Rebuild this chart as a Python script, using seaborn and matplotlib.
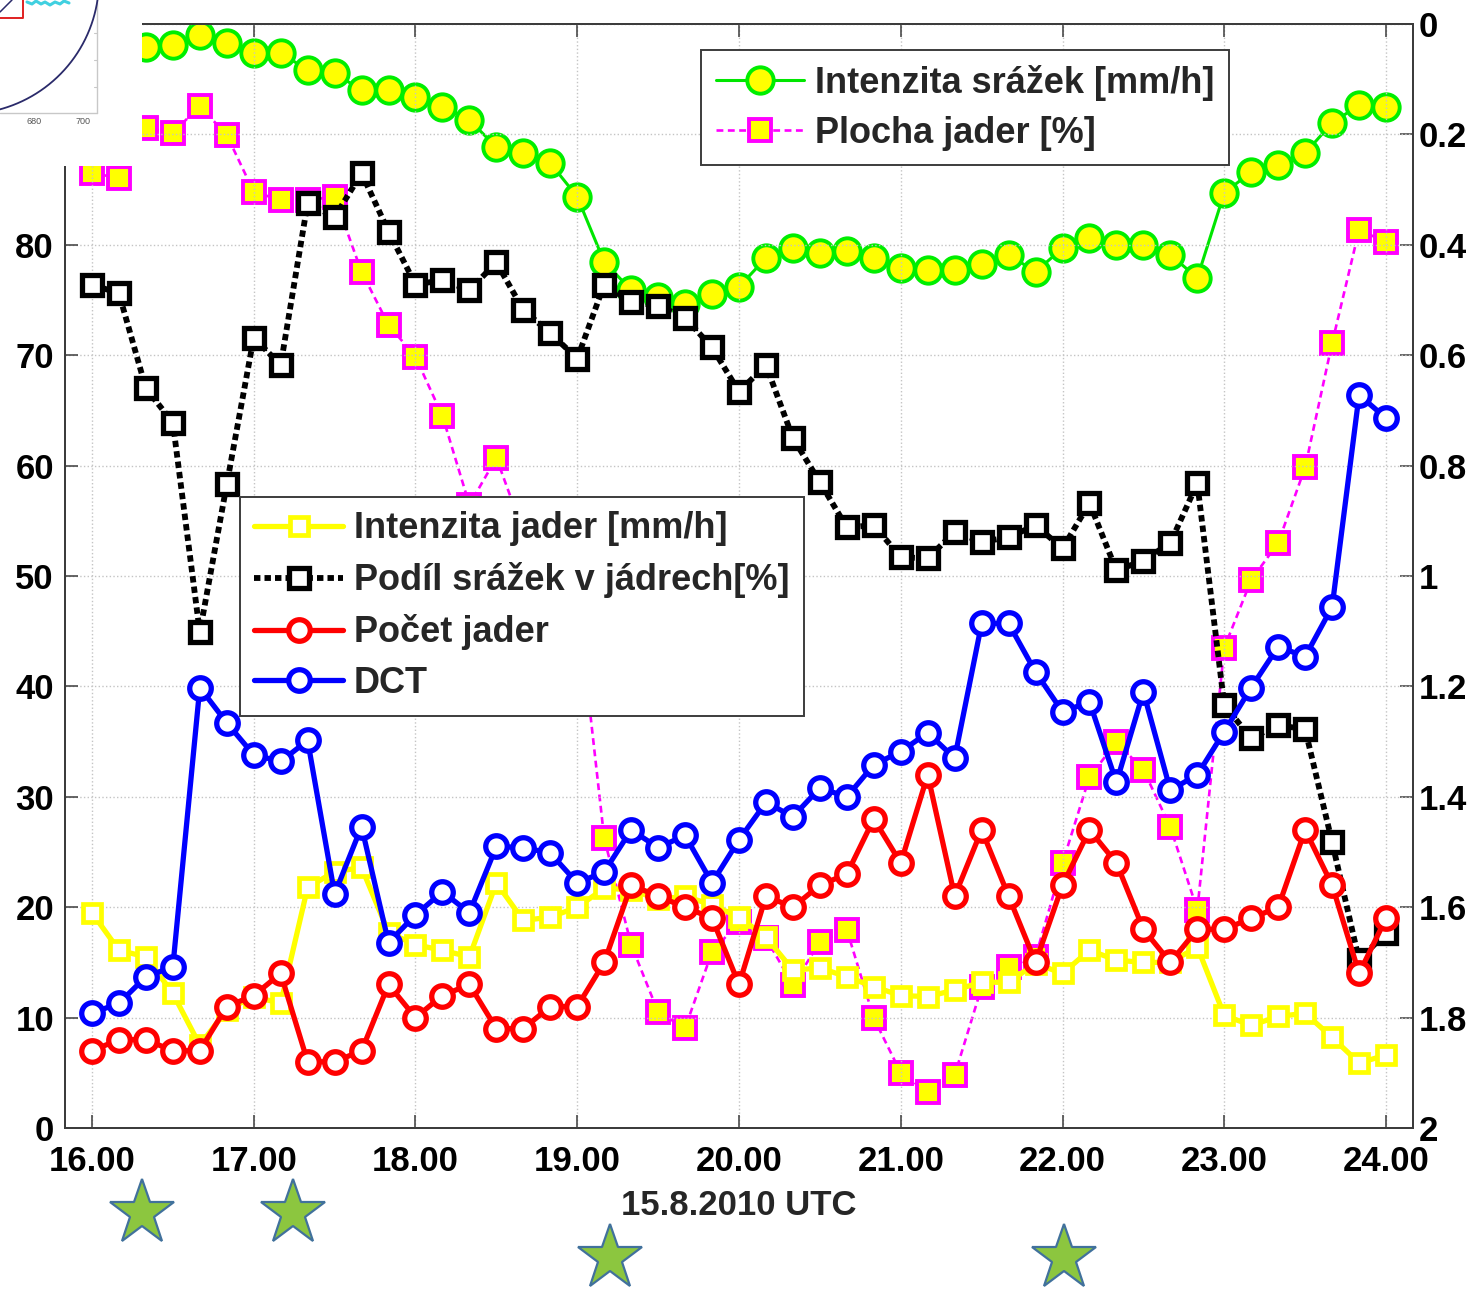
import numpy as np
import matplotlib
matplotlib.use("Agg")
import matplotlib.pyplot as plt
import matplotlib.transforms as mtransforms
import seaborn as sns

# ---- data: 10-minute steps, 15.8.2010, 16:00-24:00 UTC ----
hours = [16 + i / 6 for i in range(49)]

# right axis (inverted)
intenzita_srazek = [0.045, 0.045, 0.042, 0.038, 0.020, 0.034, 0.053, 0.053, 0.083, 0.089,
                    0.120, 0.120, 0.132, 0.150, 0.174, 0.223, 0.234, 0.252, 0.313, 0.431,
                    0.482, 0.495, 0.507, 0.489, 0.476, 0.424, 0.406, 0.415, 0.411, 0.424,
                    0.442, 0.446, 0.446, 0.435, 0.418, 0.449, 0.406, 0.388, 0.400, 0.400,
                    0.418, 0.460, 0.306, 0.268, 0.255, 0.234, 0.179, 0.147, 0.150]
plocha_jader = [0.270, 0.279, 0.188, 0.197, 0.149, 0.201, 0.304, 0.319, 0.319, 0.313,
                0.449, 0.545, 0.603, 0.710, 0.871, 0.786, 0.920, 0.980, 1.038, 1.475,
                1.668, 1.790, 1.819, 1.681, 1.627, 1.656, 1.741, 1.663, 1.641, 1.801,
                1.900, 1.935, 1.904, 1.745, 1.708, 1.690, 1.520, 1.364, 1.301, 1.351,
                1.455, 1.605, 1.130, 1.007, 0.940, 0.803, 0.578, 0.373, 0.395]

# left axis
intenzita_jader = [19.5, 16.1, 15.5, 12.2, 7.5, 10.7, 11.9, 11.3, 21.8, 23.2,
                   23.6, 17.7, 16.6, 16.1, 15.5, 22.2, 18.8, 19.1, 20.0, 21.7,
                   21.6, 20.7, 21.0, 20.2, 19.1, 17.3, 14.3, 14.5, 13.7, 12.8,
                   12.0, 11.9, 12.5, 13.2, 13.2, 14.9, 14.0, 16.1, 15.2, 15.0,
                   15.0, 16.4, 10.2, 9.3, 10.1, 10.4, 8.2, 5.9, 6.6]
podil_srazek = [76.4, 75.6, 67.0, 63.9, 44.9, 58.3, 71.6, 69.1, 83.8, 82.5,
                86.5, 81.2, 76.4, 76.8, 75.9, 78.4, 74.1, 72.0, 69.7, 76.4,
                74.8, 74.5, 73.4, 70.7, 66.7, 69.1, 62.5, 58.5, 54.4, 54.6,
                51.7, 51.6, 54.0, 53.1, 53.5, 54.6, 52.5, 56.6, 50.5, 51.4,
                53.0, 58.4, 38.3, 35.3, 36.5, 36.1, 25.9, 15.2, 17.7]
pocet_jader = [7, 8, 8, 7, 7, 11, 12, 14, 6, 6,
               7, 13, 10, 12, 13, 9, 9, 11, 11, 15,
               22, 21, 20, 19, 13, 21, 20, 22, 23, 28,
               24, 32, 21, 27, 21, 15, 22, 27, 24, 18,
               15, 18, 18, 19, 20, 27, 22, 14, 19]
dct = [10.4, 11.3, 13.7, 14.6, 39.9, 36.7, 33.8, 33.2, 35.1, 21.2,
       27.3, 16.8, 19.3, 21.4, 19.5, 25.5, 25.4, 24.9, 22.2, 23.2,
       27.0, 25.4, 26.5, 22.2, 26.1, 29.5, 28.2, 30.8, 30.0, 32.9,
       34.1, 35.8, 33.5, 45.7, 45.7, 41.3, 37.7, 38.6, 31.3, 39.5,
       30.6, 32.0, 35.9, 39.9, 43.6, 42.7, 47.2, 66.4, 64.3]

x_ticks = list(range(16, 25))
x_ticklabels = [f"{h}.00" for h in x_ticks]
left_ticks = list(range(0, 101, 10))
# the two top labels sit under the map inset
left_ticklabels = ["0", "10", "20", "30", "40", "50", "60", "70", "80", "", ""]
right_ticks = [0, 0.2, 0.4, 0.6, 0.8, 1, 1.2, 1.4, 1.6, 1.8, 2]
right_ticklabels = ["0", "0.2", "0.4", "0.6", "0.8", "1", "1.2", "1.4", "1.6", "1.8", "2"]

star_times = [16.31, 17.24, 19.20, 22.01]
star_rows = [0.064, 0.064, 0.029, 0.029]

# ---- style ----
sns.set_theme(style="white")
plt.rcParams["font.family"] = ["Liberation Sans", "DejaVu Sans"]
plt.rcParams["font.weight"] = "bold"
plt.rcParams["axes.labelweight"] = "bold"

SPINE = "#3c3c3c"
FS = 25

fig = plt.figure(figsize=(14.83, 12.96), dpi=100)
fig.patch.set_facecolor("white")
ax = fig.add_axes([0.04383, 0.12963, 0.90897, 0.85185])
ax2 = ax.twinx()
ax.set_zorder(ax2.get_zorder() + 1)
ax.patch.set_visible(False)


def draw(axis, y, **kw):
    sns.lineplot(x=hours, y=y, ax=axis, sort=False, estimator=None, errorbar=None,
                 legend=False, **kw)
    return axis.lines[-1]


# right-axis series
h_green = draw(ax2, intenzita_srazek, color="#00e600", linewidth=2.2, linestyle="-",
               marker="o", markersize=19, markerfacecolor="#ffff00",
               markeredgecolor="#00ee00", markeredgewidth=2.8,
               label="Intenzita srážek [mm/h]")
h_mag = draw(ax2, plocha_jader, color="#ff00ff", linewidth=1.9, linestyle=(0, (2.6, 1.7)),
             marker="s", markersize=15.5, markerfacecolor="#ffff00",
             markeredgecolor="#ff00ff", markeredgewidth=2.8,
             label="Plocha jader [%]")

# left-axis series
h_yel = draw(ax, intenzita_jader, color="#ffff00", linewidth=3.8, linestyle="-",
             marker="s", markersize=13.5, markerfacecolor="white",
             markeredgecolor="#ffff00", markeredgewidth=3.4,
             label="Intenzita jader [mm/h]")
h_blk = draw(ax, podil_srazek, color="black", linewidth=4.2, linestyle=(0, (1.1, 0.7)),
             marker="s", markersize=14, markerfacecolor="white",
             markeredgecolor="black", markeredgewidth=3.8,
             label="Podíl srážek v jádrech[%]")
h_red = draw(ax, pocet_jader, color="#ff0000", linewidth=3.8, linestyle="-",
             marker="o", markersize=15.5, markerfacecolor="white",
             markeredgecolor="#ff0000", markeredgewidth=3.8,
             label="Počet jader")
h_blu = draw(ax, dct, color="#0000ff", linewidth=3.8, linestyle="-",
             marker="o", markersize=15.5, markerfacecolor="white",
             markeredgecolor="#0000ff", markeredgewidth=3.8,
             label="DCT")

# ---- axes ----
ax.set_xlim(15 + 5 / 6, 24 + 1 / 6)
ax.set_ylim(0, 100)
ax2.set_ylim(2, 0)
ax.set_xticks(x_ticks)
ax.set_xticklabels(x_ticklabels)
ax.set_yticks(left_ticks)
ax.set_yticklabels(left_ticklabels)
ax2.set_yticks(right_ticks)
ax2.set_yticklabels(right_ticklabels)

ax.tick_params(axis="x", direction="in", length=9.5, width=1.1, color=SPINE,
               top=True, bottom=True, labelsize=FS, pad=12, labelcolor="black")
ax.tick_params(axis="y", direction="in", length=9.5, width=1.1, color=SPINE,
               left=True, right=False, labelsize=FS, pad=8, labelcolor="black")
ax2.tick_params(axis="y", direction="in", length=9.5, width=1.1, color=SPINE,
                right=True, labelsize=FS, pad=4, labelcolor="black")
for a in (ax, ax2):
    for s in a.spines.values():
        s.set_color(SPINE)
        s.set_linewidth(1.4)
        s.set_visible(True)
    for lab in a.get_xticklabels() + a.get_yticklabels():
        lab.set_fontweight("bold")

ax.grid(True, which="major", axis="both", linestyle=":", linewidth=1.0, color="#c4c4c4")
ax.set_axisbelow(True)
ax.set_xlabel("15.8.2010 UTC", fontsize=FS, fontweight="bold", labelpad=8)
ax.set_ylabel("")
ax2.set_ylabel("")

# ---- legends ----
leg_kw = dict(frameon=True, fancybox=False, shadow=False, framealpha=1,
              edgecolor=SPINE, borderaxespad=0, handlelength=2.45,
              handletextpad=0.3, borderpad=0.4,
              prop={"size": 26, "weight": "bold"})
leg1 = ax.legend(handles=[h_green, h_mag], loc="upper right", labelspacing=0.42,
                 bbox_to_anchor=(0.8635, 0.9764), **leg_kw)
leg1.get_frame().set_linewidth(1.4)
ax.add_artist(leg1)
leg2 = ax.legend(handles=[h_yel, h_blk, h_red, h_blu], loc="upper left",
                 labelspacing=0.44, bbox_to_anchor=(0.1298, 0.5716), **leg_kw)
leg2.get_frame().set_linewidth(1.4)

# ---- highlighted times below the axis ----
star_tr = mtransforms.blended_transform_factory(ax.transData, fig.transFigure)
ax.plot(star_times, star_rows, linestyle="none", marker="*", markersize=49,
        markerfacecolor="#8cc63f", markeredgecolor="#41719c", markeredgewidth=1.6,
        transform=star_tr, clip_on=False, zorder=20)

# ---- small map inset in the top-left corner ----
ins = fig.add_axes([0, 1 - 166 / 1296, 142 / 1483, 166 / 1296], zorder=30)
ins.set_facecolor("white")
ins.set_xlim(0, 142)
ins.set_ylim(166, 0)
ins.set_axis_off()
ins.add_artist(plt.Rectangle((0, 0), 142, 166, facecolor="white", edgecolor="none",
                             transform=ins.transData, zorder=0))
t = np.linspace(0, np.pi / 2, 200)
ins.plot(-35 + 134 * np.cos(t), -20 + 134 * np.sin(t), color="#2a2a6a", lw=1.3, zorder=2)
ins.plot([97, 97], [0, 113], color="#c8c8c8", lw=1.0, zorder=1)
ins.plot([0, 97], [113, 113], color="#c8c8c8", lw=1.0, zorder=1)
for yy in (33, 60, 87):
    ins.plot([94, 97], [yy, yy], color="#c8c8c8", lw=0.8)
ins.plot([23, 23, 0], [0, 18, 18], color="#e02020", lw=1.4, zorder=3)
ins.plot([0, 12], [12, 0], color="#2a2a6a", lw=1.1, zorder=3)
ins.plot([27, 32, 36, 41, 45, 50, 55, 60, 64, 69], [2, 4, 1, 4, 2, 5, 2, 4, 1, 3],
         color="#40d0e0", lw=2.2, zorder=3)
ins.text(34, 122, "680", fontsize=6.5, color="#555555", ha="center", va="center",
         fontweight="normal")
ins.text(83, 122, "700", fontsize=6.5, color="#555555", ha="center", va="center",
         fontweight="normal")

fig.savefig("out.png", dpi=100, facecolor="white")
